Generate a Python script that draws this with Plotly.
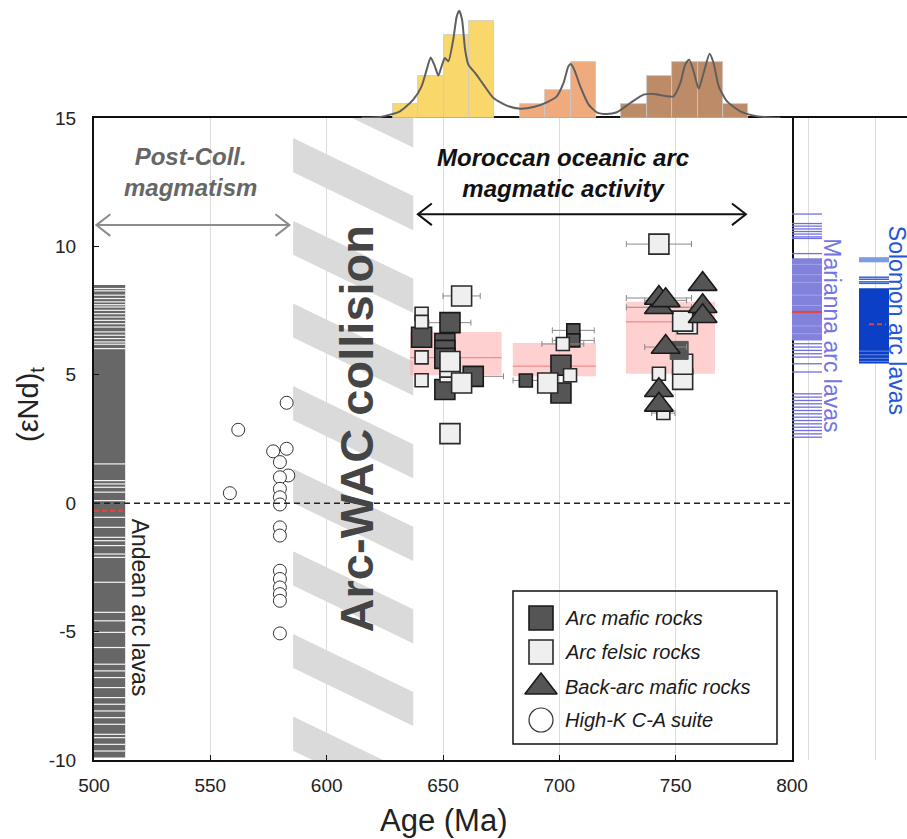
import plotly.graph_objects as go

W, H = 907, 839
FONT = "Liberation Sans, Arial, sans-serif"

# ---------------- data ----------------
age_ticks = [500, 550, 600, 650, 700, 750, 800]
end_ticks = [-10, -5, 0, 5, 10, 15]
end_tick_text = ["-10", "-5", "0", "5", "10", "15"]

hist_bin_width = 10.9
hist_yellow_age = [633.8, 644.8, 655.7, 666.6]
hist_yellow_n = [1, 3, 6, 7]
hist_orange_age = [688.5, 699.4, 710.3]
hist_orange_n = [1, 2, 4]
hist_brown_age = [732.1, 743.0, 754.0, 764.9, 775.8]
hist_brown_n = [1, 3, 4, 4, 1]

kde_age = [615.0, 622.9, 631.5, 637.2, 640.8, 643.0, 644.7, 646.5, 648.0, 649.4, 650.8, 652.3,
           654.4, 655.9, 657.0, 658.2, 659.5, 660.9, 663.8, 667.4, 671.7, 677.4, 683.2,
           688.9, 694.6, 698.9, 701.8, 703.9, 704.9, 706.4, 709.0, 712.6, 716.1, 720.4,
           724.7, 730.5, 736.2, 740.5, 744.8, 749.1, 752.0, 754.1, 755.8, 757.7, 759.9,
           762.0, 764.6, 766.3, 768.5, 772.1, 777.8, 783.6, 789.3, 795.0]
kde_n = [0.01, 0.07, 0.48, 1.32, 2.28, 3.48, 4.36, 3.72, 3.05, 3.72, 4.32, 4.08, 5.64, 7.31,
         7.72, 7.07, 4.92, 3.84, 3.24, 2.40, 1.44, 0.89, 0.67, 0.79, 1.13, 1.56, 2.52,
         3.72, 3.88, 3.48, 2.28, 0.96, 0.41, 0.29, 0.41, 1.08, 1.68, 1.73, 1.61, 1.56,
         2.52, 3.84, 4.20, 3.36, 2.11, 3.24, 4.63, 3.96, 2.28, 1.20, 0.48, 0.17, 0.05, 0.01]

# Arc mafic rocks (dark squares)
mafic_age = [640.8, 653.0, 650.8, 650.8, 650.8, 663.0, 650.8, 700.7, 700.7]
mafic_end = [6.46, 7.03, 6.22, 5.95, 5.64, 4.94, 4.43, 5.37, 4.29]
mafic_err = [0, 9, 0, 0, 0, 13, 0, 0, 0]
mafic_small_age = [685.6, 706.0, 706.0]
mafic_small_end = [4.78, 6.73, 6.34]
mafic_small_err = [5.5, 9, 9]
mafic_c3_age = [751.5]
mafic_c3_end = [5.95]

# Arc felsic rocks (light squares)
felsic_age = [658.0, 653.0, 653.0, 653.0, 658.0, 653.0, 695.0, 742.8, 755.0, 753.0, 753.0, 753.0]
felsic_end = [8.07, 5.11, 5.30, 5.52, 4.68, 2.71, 4.68, 10.09, 6.99, 7.09, 4.82, 5.41]
felsic_err = [8, 0, 0, 0, 0, 0, 0, 14, 0, 0, 0, 0]
felsic_small_age = [640.8, 640.8, 640.8, 640.8, 704.6, 701.5, 742.8, 744.7]
felsic_small_end = [7.38, 7.06, 5.68, 4.79, 4.98, 6.20, 5.04, 3.51]
felsic_small_err = [0, 0, 0, 0, 0, 9, 0, 5]

# Back-arc mafic rocks (triangles)
backarc_age = [742.8, 742.8, 745.7, 761.6, 761.6, 761.6, 745.7, 742.8, 742.8]
backarc_end = [7.63, 7.99, 7.90, 8.53, 7.67, 7.28, 6.08, 4.40, 3.83]
backarc_err = [14, 14, 9, 0, 0, 0, 9, 0, 0]

# High-K C-A suite (open circles)
highk_age = [582.8, 562.0, 577.0, 582.8, 579.9, 583.5, 579.9, 579.9, 579.9, 579.9, 558.4,
             579.9, 579.9, 579.9, 579.9, 579.9, 579.9, 579.9, 579.9]
highk_end = [3.91, 2.86, 2.02, 2.12, 1.60, 1.08, 1.01, 0.56, 0.23, -0.05, 0.39,
             -0.94, -1.26, -2.63, -2.95, -3.28, -3.54, -3.80, -5.07]

# mean +/- ranges of the three arc groups
group_age_lo = [635.8, 680.0, 728.6]
group_age_hi = [675.2, 715.7, 766.9]
group_end_lo = [4.98, 4.94, 5.04]
group_end_hi = [6.67, 6.24, 7.84]
group_end_mean = [5.67, 5.34, 7.06]

# Andean arc lavas (dense band with gaps)
andean_age_range = [500.0, 513.4]
andean_end_range = [-9.9, 8.5]
andean_gaps = [8.36, 8.27, 8.1, 7.97, 7.84, 7.73, 7.64, 7.51, 7.38, 7.25, 7.12, 6.99, 6.86,
               6.67, 6.54, 6.41, 6.28, 6.19, 6.02, 1.53, 0.88, 0.75, 0.62, 0.43, 0.1,
               -0.55, -0.94, -1.33, -1.46, -1.65, -1.98, -2.11, -3.08, -4.25, -4.58, -5.03,
               -5.62, -6.27, -6.53, -6.79, -7.18, -7.57, -7.83, -8.09, -8.35, -8.61, -9.0,
               -9.13, -9.39, -9.65]
andean_mean = -0.29

# Marianna arc lavas
marianna_lines = [11.26, 10.89, 10.79, 10.68, 10.58, 10.48, 10.37, 10.31, 9.72, 6.21, 6.08,
                  5.95, 5.82, 5.69, 5.43, 5.11, 4.26, 4.13, 4.0, 3.87, 3.74, 3.61, 3.48,
                  3.35, 3.22, 3.09, 2.96, 2.83, 2.7, 2.57]
marianna_band = [6.34, 9.54]
marianna_pale_lines = [9.3, 8.9, 8.6, 8.1, 7.7, 6.9, 6.6]
marianna_mean = 7.45

# Solomon arc lavas
solomon_light_band = [9.38, 9.58]
solomon_lines = [8.80, 8.72, 8.62, 8.56]
solomon_band = [5.44, 8.37]
solomon_pale_lines = [5.92, 5.78, 5.64, 5.52]
solomon_mean = 6.97

# Arc-WAC collision hatched zone
collision_age = [585.6, 637.2]
collision_stripe_tops = [17.44, 14.22, 11.0, 7.78, 4.56, 1.34, -1.87, -5.09, -8.31]
stripe_drop = 2.26
stripe_thick = 1.33

# period arrows
postcoll_range = [501.0, 584.0]
postcoll_level = 10.83
oceanic_range = [639.2, 780.2]
oceanic_level = 11.25

legend_labels = ["Arc mafic rocks", "Arc felsic rocks", "Back-arc mafic rocks", "High-K C-A suite"]

# ---------------- figure ----------------
fig = go.Figure()

# hatched collision zone
sx, sy = [], []
for t in collision_stripe_tops:
    sx += [collision_age[0], collision_age[1], collision_age[1], collision_age[0], collision_age[0], None]
    sy += [t, t - stripe_drop, t - stripe_drop - stripe_thick, t - stripe_thick, t, None]
fig.add_trace(go.Scatter(x=sx, y=sy, fill="toself", fillcolor="#dadada", mode="none",
                         hoverinfo="skip", showlegend=False))

# pink mean boxes
for lo, hi, elo, ehi, m in zip(group_age_lo, group_age_hi, group_end_lo, group_end_hi, group_end_mean):
    fig.add_trace(go.Scatter(x=[lo, hi, hi, lo, lo], y=[elo, elo, ehi, ehi, elo], fill="toself",
                             fillcolor="rgba(255,170,170,0.55)", mode="none",
                             hoverinfo="skip", showlegend=False))
    fig.add_trace(go.Scatter(x=[lo, hi], y=[m, m], mode="lines",
                             line=dict(color="#f28b8b", width=1.2),
                             hoverinfo="skip", showlegend=False))

# Andean band
a0, a1 = andean_age_range
e0, e1 = andean_end_range
fig.add_trace(go.Scatter(x=[a0, a1, a1, a0, a0], y=[e0, e0, e1, e1, e0], fill="toself",
                         fillcolor="#676767", mode="none", hoverinfo="skip", showlegend=False))
gx, gy = [], []
for g in andean_gaps:
    gx += [a0, a1, None]
    gy += [g, g, None]
fig.add_trace(go.Scatter(x=gx, y=gy, mode="lines", line=dict(color="#f4f4f4", width=1.2),
                         hoverinfo="skip", showlegend=False))
fig.add_trace(go.Scatter(x=[a0, a1], y=[andean_mean, andean_mean], mode="lines",
                         line=dict(color="#e5463c", width=2, dash="5px,3px"),
                         hoverinfo="skip", showlegend=False))

errstyle = dict(type="data", color="#8a8a8a", thickness=1, width=3)
dark_m = dict(symbol="square", color="#555555", line=dict(color="#1a1a1a", width=1.6))
light_m = dict(symbol="square", color="#efefef", line=dict(color="#2a2a2a", width=1.6))

fig.add_trace(go.Scatter(x=mafic_age, y=mafic_end, mode="markers",
                         error_x=dict(array=mafic_err, **errstyle),
                         marker=dict(size=20, **dark_m), showlegend=False))
fig.add_trace(go.Scatter(x=mafic_small_age, y=mafic_small_end, mode="markers",
                         error_x=dict(array=mafic_small_err, **errstyle),
                         marker=dict(size=13, **dark_m), showlegend=False))
fig.add_trace(go.Scatter(x=felsic_age, y=felsic_end, mode="markers",
                         error_x=dict(array=felsic_err, **errstyle),
                         marker=dict(size=20, **light_m), showlegend=False))
fig.add_trace(go.Scatter(x=felsic_small_age, y=felsic_small_end, mode="markers",
                         error_x=dict(array=felsic_small_err, **errstyle),
                         marker=dict(size=13, **light_m), showlegend=False))
fig.add_trace(go.Scatter(x=mafic_c3_age, y=mafic_c3_end, mode="markers",
                         marker=dict(size=18, symbol="square", color="#555555",
                                     line=dict(color="#555555", width=1)), showlegend=False))
fig.add_trace(go.Scatter(x=backarc_age, y=backarc_end, mode="markers",
                         error_x=dict(array=backarc_err, **errstyle),
                         marker=dict(size=25, symbol="triangle-up", color="#555555",
                                     line=dict(color="#1a1a1a", width=1.6)), showlegend=False))
fig.add_trace(go.Scatter(x=highk_age, y=highk_end, mode="markers",
                         marker=dict(size=13, symbol="circle", color="white",
                                     line=dict(color="#333333", width=1)), showlegend=False))

# arrows
def arrow(rng, lvl, color):
    hx, hy = 6.0, 0.42
    x = [rng[0], rng[1], None,
         rng[1] - hx, rng[1], rng[1] - hx, None,
         rng[0] + hx, rng[0], rng[0] + hx]
    y = [lvl, lvl, None, lvl + hy, lvl, lvl - hy, None, lvl + hy, lvl, lvl - hy]
    fig.add_trace(go.Scatter(x=x, y=y, mode="lines", line=dict(color=color, width=2),
                             hoverinfo="skip", showlegend=False))

arrow(postcoll_range, postcoll_level, "#8c8c8c")
arrow(oceanic_range, oceanic_level, "#111111")

# top histograms
for ages, ns, col in [(hist_yellow_age, hist_yellow_n, "#fad76a"),
                      (hist_orange_age, hist_orange_n, "#efab7e"),
                      (hist_brown_age, hist_brown_n, "#bd8b68")]:
    fig.add_trace(go.Bar(x=ages, y=ns, width=hist_bin_width, xaxis="x2", yaxis="y2",
                         marker=dict(color=col, line=dict(color="#c8c8c8", width=0.8)),
                         showlegend=False, hoverinfo="skip"))
fig.add_trace(go.Scatter(x=kde_age, y=kde_n, xaxis="x2", yaxis="y2", mode="lines",
                         line=dict(color="#5f5f5f", width=2, shape="spline", smoothing=0.6),
                         showlegend=False, hoverinfo="skip"))

# right panel: Marianna & Solomon
MAR_X = [0, 30]
SOL_X = [67, 97]

def hlines(xr, vals, color, width):
    x, y = [], []
    for v in vals:
        x += [xr[0], xr[1], None]
        y += [v, v, None]
    fig.add_trace(go.Scatter(x=x, y=y, xaxis="x3", yaxis="y", mode="lines",
                             line=dict(color=color, width=width),
                             hoverinfo="skip", showlegend=False))

def band(xr, rng, color):
    fig.add_trace(go.Scatter(x=[xr[0], xr[1], xr[1], xr[0], xr[0]],
                             y=[rng[0], rng[0], rng[1], rng[1], rng[0]],
                             xaxis="x3", yaxis="y", fill="toself", fillcolor=color,
                             mode="none", hoverinfo="skip", showlegend=False))

band(MAR_X, marianna_band, "#8282dc")
hlines(MAR_X, marianna_pale_lines, "#a2a2e6", 1)
hlines(MAR_X, marianna_lines, "#6f6fdc", 1.3)
hlines(MAR_X, [marianna_mean], "#e5463c", 2)
band(SOL_X, solomon_light_band, "#7d9ce6")
hlines(SOL_X, solomon_lines, "#3566d8", 1.5)
band(SOL_X, solomon_band, "#0b3fc6")
hlines(SOL_X, solomon_pale_lines, "#5a80dc", 1.2)
fig.add_trace(go.Scatter(x=[SOL_X[0] + 10, SOL_X[1] - 3], y=[solomon_mean, solomon_mean],
                         xaxis="x3", yaxis="y", mode="lines",
                         line=dict(color="#e5463c", width=2, dash="5px,3px"),
                         hoverinfo="skip", showlegend=False))

# manual legend
leg_rows = [27, 61, 96, 129]
leg_syms = [dict(symbol="square", size=24, color="#555555", line=dict(color="#1a1a1a", width=1.6)),
            dict(symbol="square", size=24, color="#efefef", line=dict(color="#2a2a2a", width=1.6)),
            dict(symbol="triangle-up", size=28, color="#555555", line=dict(color="#1a1a1a", width=1.6)),
            dict(symbol="circle", size=24, color="white", line=dict(color="#333333", width=1.2))]
for r, m, lab in zip(leg_rows, leg_syms, legend_labels):
    fig.add_trace(go.Scatter(x=[28], y=[r], xaxis="x4", yaxis="y4", mode="markers",
                             marker=m, showlegend=False, hoverinfo="skip"))
    fig.add_annotation(x=50, y=r, xref="x4", yref="y4", text=f"<i>{lab}</i>", showarrow=False,
                       xanchor="left", yanchor="middle",
                       font=dict(family=FONT, size=20, color="#1a1a1a"))

# zero line
fig.add_shape(type="line", xref="x", yref="y", x0=500, x1=800, y0=0, y1=0, layer="above",
              line=dict(color="#222222", width=1.5, dash="6px,4px"))

# texts
fig.add_annotation(x=613.0, y=2.91, xref="x", yref="y", text="<b>Arc-WAC collision</b>",
                   textangle=-90, showarrow=False, xanchor="center", yanchor="middle",
                   font=dict(family=FONT, size=47, color="#454545"))
fig.add_annotation(x=541.5, y=12.91, xref="x", yref="y", text="<b><i>Post-Coll.<br>magmatism</i></b>",
                   showarrow=False, xanchor="center", yanchor="middle",
                   font=dict(family=FONT, size=24, color="#666666"))
fig.add_annotation(x=701.5, y=12.87, xref="x", yref="y",
                   text="<b><i>Moroccan oceanic arc<br>magmatic activity</i></b>",
                   showarrow=False, xanchor="center", yanchor="middle",
                   font=dict(family=FONT, size=24, color="#111111"))
fig.add_annotation(x=519.8, y=-4.07, xref="x", yref="y", text="Andean arc lavas", textangle=90,
                   showarrow=False, xanchor="center", yanchor="middle",
                   font=dict(family=FONT, size=23, color="#222222"))
fig.add_annotation(x=40, y=6.54, xref="x3", yref="y", text="Marianna arc lavas", textangle=90,
                   showarrow=False, xanchor="center", yanchor="middle",
                   font=dict(family=FONT, size=23, color="#7474e2"))
fig.add_annotation(x=104.5, y=7.12, xref="x3", yref="y", text="Solomon arc lavas", textangle=90,
                   showarrow=False, xanchor="center", yanchor="middle",
                   font=dict(family=FONT, size=23, color="#2456d8"))
fig.add_annotation(x=30 / W, y=1 - 405 / H, xref="paper", yref="paper", text="(εNd)<sub>t</sub>",
                   textangle=-90, showarrow=False, xanchor="center", yanchor="middle",
                   font=dict(family=FONT, size=29, color="#222222"))
fig.add_annotation(x=443 / W, y=1 - 820 / H, xref="paper", yref="paper", text="Age (Ma)",
                   showarrow=False, xanchor="center", yanchor="middle",
                   font=dict(family=FONT, size=31, color="#222222"))

# legend box
fig.add_shape(type="rect", xref="paper", yref="paper", x0=513 / W, x1=777 / W,
              y0=1 - 744 / H, y1=1 - 591 / H, line=dict(color="#111111", width=1.5),
              fillcolor="rgba(0,0,0,0)", layer="above")

XD = [94 / W, 792 / W]
YD = [1 - 760 / H, 1 - 118 / H]

fig.update_layout(
    template="none",
    width=W, height=H, margin=dict(l=0, r=0, t=0, b=0, pad=0, autoexpand=False),
    paper_bgcolor="white", plot_bgcolor="rgba(0,0,0,0)",
    font=dict(family=FONT, color="#222222"),
    bargap=0, showlegend=False,
    xaxis=dict(domain=XD, range=[500, 800], tickvals=age_ticks, showgrid=True, automargin=False,
               gridcolor="#dcdcdc", gridwidth=1, zeroline=False, showline=True, mirror=True,
               linecolor="#111111", linewidth=2, ticks="inside", ticklen=5, tickcolor="#111111",
               tickfont=dict(size=19, color="#222222"), ticklabelstandoff=7, anchor="y"),
    yaxis=dict(domain=YD, range=[-10, 15], tickvals=end_ticks, ticktext=end_tick_text,
               showgrid=False, zeroline=False,
               automargin=False, showline=True, mirror=True, linecolor="#111111", linewidth=2,
               ticks="inside", ticklen=5, tickcolor="#111111",
               tickfont=dict(size=19, color="#222222"), ticklabelstandoff=12, anchor="x"),
    xaxis2=dict(domain=XD, matches="x", anchor="y2", visible=False, automargin=False),
    yaxis2=dict(domain=[1 - 118 / H, 1], range=[0, 8.49], anchor="x2", visible=False,
                automargin=False),
    xaxis3=dict(domain=[792 / W, 1], range=[0, 115], anchor="y", side="top", showline=True,
                linecolor="#111111", linewidth=2, tickvals=[16, 83], showticklabels=False,
                ticks="", showgrid=True, gridcolor="#dcdcdc", zeroline=False, automargin=False),
    xaxis4=dict(domain=[513 / W, 777 / W], range=[0, 264], anchor="y4", visible=False,
                automargin=False),
    yaxis4=dict(domain=[1 - 744 / H, 1 - 591 / H], range=[153, 0], anchor="x4", visible=False,
                automargin=False),
)

fig.write_html("out.html", config={"displayModeBar": False})
